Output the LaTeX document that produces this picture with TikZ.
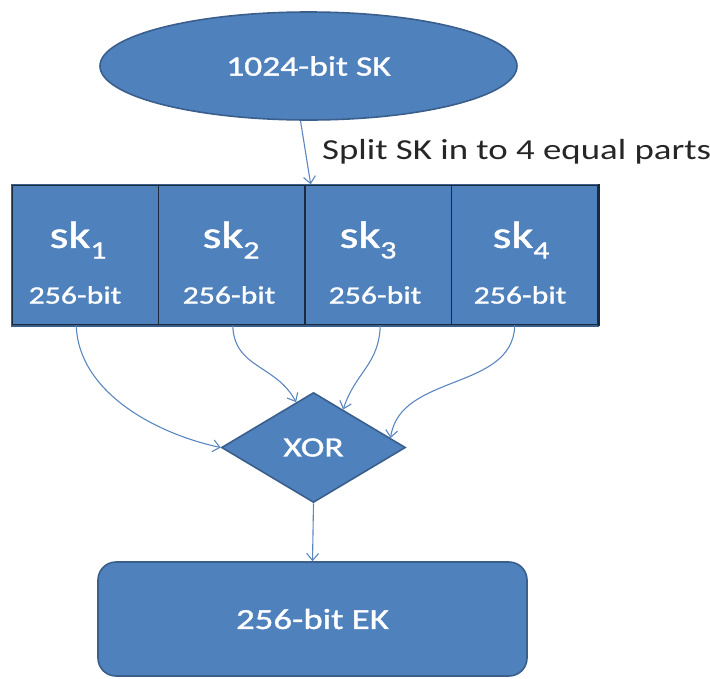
\documentclass[tikz,border=0pt]{standalone}
\usepackage{fontspec}
\setmainfont{Carlito}[FakeStretch=1.27]
\newfontfamily\shapefont{Carlito}[FakeStretch=1.27, FakeBold=1.2]
\usetikzlibrary{shapes.geometric,arrows.meta}
\definecolor{shapefill}{HTML}{4F81BD}
\definecolor{shapeline}{HTML}{3A5F8C}
\definecolor{divline}{HTML}{1C2A3E}
\definecolor{linkcol}{HTML}{5B87C0}
\tikzset{
  x=1pt, y=-1pt,
  blueshape/.style={fill=shapefill, draw=shapeline, line width=1.6pt, inner sep=0pt, text=white},
  partbox/.style={fill=shapefill, draw=divline, line width=1.4pt, minimum width=146.5pt, minimum height=140pt, inner sep=0pt},
  partname/.style={text=white, font=\shapefont\fontsize{38}{38}\selectfont, inner sep=0pt},
  partsize/.style={text=white, font=\shapefont\fontsize{25}{25}\selectfont, inner sep=0pt},
  link/.style={draw=linkcol, line width=1.1pt, -{Straight Barb[length=7pt,width=12pt,line width=1.1pt]}},
}
\newcommand{\skpart}[1]{sk\raisebox{-0.28em}{\fontsize{25}{25}\selectfont #1}}
\begin{document}
\begin{tikzpicture}
\useasboundingbox (0,0) rectangle (710,678);

% source key
\node[blueshape, ellipse, minimum width=417pt, minimum height=108pt,
      font=\shapefont\fontsize{28}{28}\selectfont] (sk) at (308.5,66) {1024-bit SK};

% four equal parts
\node[partbox] (b1) at (85.25,255) {};
\node[partbox] (b2) at (231.75,255) {};
\node[partbox] (b3) at (378.25,255) {};
\node[partbox] (b4) at (524.75,255) {};
\draw[shapeline, line width=1.6pt] (b1.south east) -- (b1.south west) -- (b1.north west) -- (b4.north east);
\draw[shapeline, line width=1.6pt] (b1.south east) -- (b4.south east);
\draw[divline, line width=1.8pt] (b4.north east) -- (b4.south east);

\node[partname] (n1) at (78,240) {\skpart{1}};
\node[partname] (n2) at (231,240) {\skpart{2}};
\node[partname] (n3) at (368,240) {\skpart{3}};
\node[partname] (n4) at (521,240) {\skpart{4}};
\node[partsize] (s1) at (75,295) {256-bit};
\node[partsize] (s2) at (229,295) {256-bit};
\node[partsize] (s3) at (375,295) {256-bit};
\node[partsize] (s4) at (520,295) {256-bit};

% combining step
\node[blueshape, diamond, minimum width=184pt, minimum height=110pt,
      font=\shapefont\fontsize{28}{28}\selectfont] (xor) at (313.5,447.5) {XOR};

% derived key
\node[blueshape, rectangle, rounded corners=18pt, minimum width=429pt, minimum height=114pt,
      font=\shapefont\fontsize{29}{29}\selectfont] (ek) at (312.5,619) {256-bit EK};

% connectors
\draw[link] ([xshift=-8pt]sk.south) -- ([xshift=5pt]b2.north east);
\node[anchor=west, inner sep=0pt, text=black!85, font=\fontsize{29}{29}\selectfont] (split) at (322,152) {Split SK in to 4 equal parts};

\draw[link] ([xshift=-9pt]b1.south) to[out=-88, in=168, looseness=0.9] (xor.west);
\draw[link] ([xshift=1pt]b2.south) to[out=-88, in=118, looseness=1.1] (xor.111);
\draw[link] ([xshift=2pt]b3.south) to[out=-92, in=72, looseness=1.1] (xor.52);
\draw[link] ([xshift=-10pt]b4.south) to[out=-92, in=82, looseness=1.0] (xor.7);

\draw[link] (xor.south) -- (ek.north);
\end{tikzpicture}
\end{document}
